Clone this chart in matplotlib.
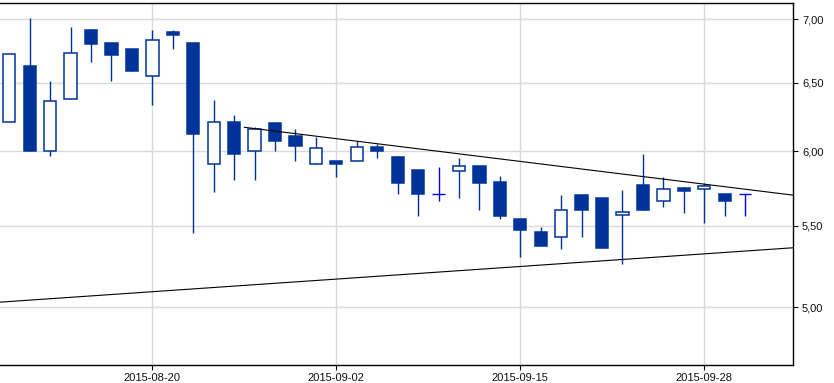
import matplotlib
matplotlib.use("Agg")
import matplotlib.pyplot as plt
from matplotlib.ticker import FixedLocator, FuncFormatter, NullLocator

# trading days shown on the chart
dates = ["2015-08-11", "2015-08-12", "2015-08-13", "2015-08-14", "2015-08-17",
         "2015-08-18", "2015-08-19", "2015-08-20", "2015-08-21", "2015-08-24",
         "2015-08-25", "2015-08-26", "2015-08-27", "2015-08-28", "2015-08-31",
         "2015-09-01", "2015-09-02", "2015-09-03", "2015-09-04", "2015-09-07",
         "2015-09-08", "2015-09-09", "2015-09-10", "2015-09-11", "2015-09-14",
         "2015-09-15", "2015-09-16", "2015-09-17", "2015-09-18", "2015-09-21",
         "2015-09-22", "2015-09-23", "2015-09-24", "2015-09-25", "2015-09-28",
         "2015-09-29", "2015-09-30"]

opens = [6.21, 6.63, 6.00, 6.375, 6.91, 6.81, 6.76, 6.55, 6.90, 6.81,
         5.91, 6.21, 6.00, 6.20, 6.11, 5.91, 5.93, 5.93, 6.03, 5.96,
         5.87, 5.71, 5.86, 5.90, 5.79, 5.54, 5.46, 5.43, 5.70, 5.68,
         5.57, 5.77, 5.66, 5.75, 5.74, 5.71, 5.71]
highs = [6.72, 7.01, 6.51, 6.94, 6.92, 6.81, 6.76, 6.91, 6.91, 6.81,
         6.37, 6.26, 6.17, 6.20, 6.16, 6.10, 5.93, 6.07, 6.05, 5.97,
         5.87, 5.89, 5.95, 5.90, 5.83, 5.54, 5.49, 5.70, 5.70, 5.68,
         5.735, 5.98, 5.82, 5.755, 5.78, 5.71, 5.71]
lows = [6.21, 6.00, 5.97, 6.375, 6.66, 6.51, 6.59, 6.33, 6.76, 5.455,
        5.72, 5.80, 5.80, 6.00, 5.93, 5.91, 5.82, 5.93, 5.955, 5.71,
        5.565, 5.66, 5.68, 5.60, 5.54, 5.30, 5.37, 5.35, 5.43, 5.36,
        5.26, 5.60, 5.62, 5.58, 5.52, 5.56, 5.56]
closes = [6.72, 6.00, 6.36, 6.73, 6.80, 6.71, 6.59, 6.83, 6.875, 6.12,
          6.21, 5.98, 6.16, 6.07, 6.04, 6.02, 5.91, 6.03, 6.00, 5.78,
          5.71, 5.71, 5.90, 5.78, 5.565, 5.47, 5.37, 5.60, 5.60, 5.36,
          5.59, 5.60, 5.74, 5.73, 5.76, 5.66, 5.71]

# trend lines (x in trading-day index, y in price)
upper_x = [11.5, 38.34]
upper_y = [6.17, 5.70]
lower_x = [-0.46, 38.34]
lower_y = [5.03, 5.36]

y_ticks = [5.0, 5.5, 6.0, 6.5, 7.0]

blue = "#003399"
doji_blue = "#0000ee"
grid_c = "#dadada"

plt.rcParams["font.family"] = ["Liberation Sans", "DejaVu Sans"]

fig = plt.figure(figsize=(8.34, 3.83), dpi=100)
ax = fig.add_axes([0.0, 0.047, 0.9508, 0.946])

w = 0.6
idx = list(range(len(dates)))
for i in idx:
    o, h, l, c = opens[i], highs[i], lows[i], closes[i]
    if o == c:
        # doji: cross in a brighter blue
        ax.vlines(i, l, h, color=doji_blue, lw=1.0, zorder=3)
        ax.hlines(o, i - w / 2, i + w / 2, color=doji_blue, lw=1.0, zorder=3)
        continue
    ax.vlines(i, l, h, color=blue, lw=1.0, zorder=2)
    if c > o:
        ax.bar(i, c - o, bottom=o, width=w, facecolor="white",
               edgecolor=blue, linewidth=1.1, zorder=3)
    else:
        ax.bar(i, o - c, bottom=c, width=w, facecolor=blue,
               edgecolor=blue, linewidth=1.1, zorder=3)

ax.plot(upper_x, upper_y, color="black", lw=0.8, zorder=4)
ax.plot(lower_x, lower_y, color="black", lw=0.8, zorder=4)

ax.set_yscale("log")
ax.set_ylim(4.674, 7.137)
ax.set_xlim(-0.455, 38.34)

ax.yaxis.set_major_locator(FixedLocator(y_ticks))
ax.yaxis.set_minor_locator(NullLocator())
ax.yaxis.set_major_formatter(FuncFormatter(lambda v, p: f"{v:.2f}".replace(".", ",")))
ax.yaxis.tick_right()

tick_pos = idx[7::9]
ax.set_xticks(tick_pos)
ax.set_xticklabels([dates[i] for i in tick_pos])

ax.tick_params(axis="both", direction="out", length=3.5, width=0.8,
               color="black", labelsize=8, labelcolor="#111111", pad=2)
ax.tick_params(axis="y", pad=3)

ax.grid(True, color=grid_c, lw=1.0, zorder=0)
ax.set_axisbelow(True)

ax.spines["left"].set_visible(False)
for s in ("top", "right", "bottom"):
    ax.spines[s].set_color("black")
    ax.spines[s].set_linewidth(1.0)

fig.savefig("out.png", dpi=100, facecolor="white")
